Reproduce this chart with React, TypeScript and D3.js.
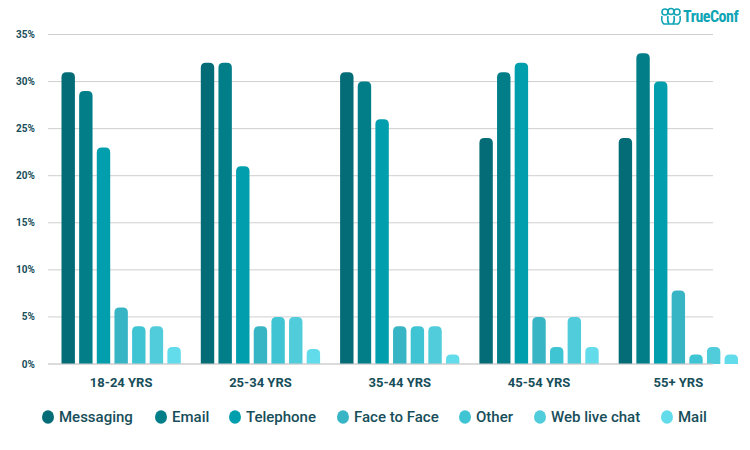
import React from "react";
import * as d3 from "d3";

const categories = ["18-24 YRS", "25-34 YRS", "35-44 YRS", "45-54 YRS", "55+ YRS"];
const seriesNames = ["Messaging", "Email", "Telephone", "Face to Face", "Other", "Web live chat", "Mail"];
const messaging = [31, 32, 31, 24, 24];
const email = [29, 32, 30, 31, 33];
const telephone = [23, 21, 26, 32, 30];
const faceToFace = [6, 4, 4, 5, 7.8];
const other = [4, 5, 4, 1.8, 1];
const webLiveChat = [4, 5, 4, 5, 1.8];
const mail = [1.8, 1.6, 1, 1.8, 1];
const yTicks = [0, 5, 10, 15, 20, 25, 30, 35];
const colors = ["#036c76", "#027e89", "#019ead", "#38b5c5", "#3ec4d3", "#50ccdb", "#62dcea"];

const seriesValues = [messaging, email, telephone, faceToFace, other, webLiveChat, mail];

const W = 750;
const H = 450;
const TEXT = "#174e5a";

function roundTopPath(x: number, y: number, w: number, h: number, r: number) {
  const rr = Math.min(r, w / 2, h);
  return `M${x},${y + h}V${y + rr}Q${x},${y} ${x + rr},${y}H${x + w - rr}Q${x + w},${y} ${x + w},${y + rr}V${y + h}Z`;
}

export default function App() {
  const y = d3.scaleLinear().domain([0, 35]).range([364, 34.5]);
  const x0 = d3.scaleBand<string>().domain(categories).range([51.5, 748]).padding(0);
  const x1 = d3
    .scaleBand<string>()
    .domain(seriesNames)
    .range([10, x0.bandwidth() - 10])
    .paddingInner(0.24)
    .paddingOuter(0);

  const legendX = [48, 161, 235, 343, 465, 540, 667];

  return (
    <svg width={W} height={H} style={{ position: "absolute", left: 0, top: 0, fontFamily: "Roboto, sans-serif" }}>
      <rect width={W} height={H} fill="#fff" />
      {yTicks.map((t) => (
        <g key={t}>
          <line x1={48} x2={713} y1={y(t)} y2={y(t)} stroke="#cfcfcf" strokeWidth={1} />
          <text x={35} y={y(t)} dy="0.35em" textAnchor="end" fontSize={10} fontWeight={700} fill={TEXT}>
            {t}%
          </text>
        </g>
      ))}
      {categories.map((c, ci) => (
        <g key={c} transform={`translate(${x0(c)},0)`}>
          {seriesNames.map((s, si) => {
            const v = seriesValues[si][ci];
            const bx = x1(s)!;
            const by = y(v);
            const bh = y(0) - by;
            return <path key={s} d={roundTopPath(bx, by, x1.bandwidth(), bh, 5)} fill={colors[si]} />;
          })}
          <text
            x={x0.bandwidth() / 2}
            y={382}
            dy="0.35em"
            textAnchor="middle"
            fontSize={13}
            fontWeight={700}
            fill={TEXT}
          >
            {c}
          </text>
        </g>
      ))}
      <line x1={48} x2={713} y1={y(0)} y2={y(0)} stroke="#cfcfcf" strokeWidth={1} />
      {seriesNames.map((s, i) => (
        <g key={s}>
          <ellipse cx={legendX[i]} cy={417} rx={6} ry={6.8} fill={colors[i]} />
          <text x={legendX[i] + 11} y={417} dy="0.35em" fontSize={15} fontWeight={500} fill={TEXT}>
            {s}
          </text>
        </g>
      ))}
      <g transform="translate(661,8)" fill="none" stroke="#10a5b5" strokeWidth={1.6}>
        <circle cx={4} cy={4} r={3} />
        <circle cx={10} cy={3.5} r={3} />
        <circle cx={16} cy={4} r={3} />
        <path d="M1,8 Q0,14 3,16 H17 Q20,14 19,8" />
        <path d="M7,8 Q6,13 8,16 M13,8 Q14,13 12,16" />
      </g>
      <text x={683} y={16} dy="0.35em" fontSize={16} fontWeight={700} fill="#10a5b5" fontFamily="'Roboto Condensed', 'Liberation Sans Narrow', Roboto, sans-serif" letterSpacing={-0.5}>
        TrueConf
      </text>
    </svg>
  );
}
